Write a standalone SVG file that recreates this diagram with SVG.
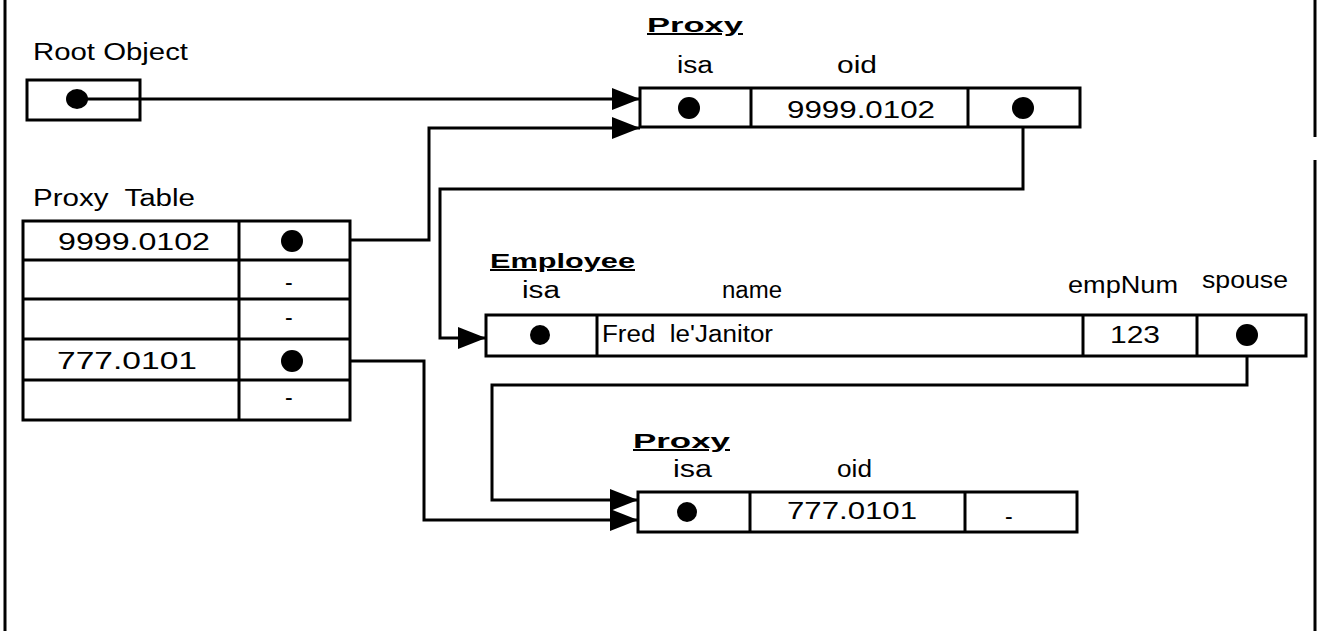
<svg xmlns="http://www.w3.org/2000/svg" width="1320" height="631" viewBox="0 0 1320 631">
<style>
.t{font-family:"Liberation Sans",Arial,sans-serif;font-size:23px;fill:#000;white-space:pre}
.h{font-family:"Liberation Sans",Arial,sans-serif;font-size:20px;font-weight:bold;fill:#000;text-decoration:underline}
.box{fill:#fff;stroke:#000;stroke-width:3}
.div{stroke:#000;stroke-width:3;fill:none}
.dot{fill:#000}
.conn{fill:none;stroke:#000;stroke-width:3;marker-end:url(#arr)}
.frame{stroke:#000;stroke-width:3;fill:none}
</style>
<defs>
<marker id="arr" viewBox="0 0 28 22" refX="28" refY="11" markerWidth="28" markerHeight="22" markerUnits="userSpaceOnUse" orient="auto">
<path d="M0,0 L28,11 L0,22 z" fill="#000"/>
</marker>
</defs>
<rect width="1320" height="631" fill="#fff"/>
<g id="frame">
<line class="frame" x1="5" y1="0" x2="5" y2="631"/>
<line class="frame" x1="1315" y1="0" x2="1315" y2="137"/>
<line class="frame" x1="1315" y1="160" x2="1315" y2="631"/>
</g>
<g id="connectors">
<path class="conn" d="M77,99 L640,99"/>
<path class="conn" d="M292,240 L429,240 L429,128 L640,128"/>
<path class="conn" d="M1023,108 L1023,189 L440,189 L440,338 L486,338"/>
<path class="conn" d="M1247,335 L1247,385 L492,385 L492,500 L638,500"/>
<path class="conn" d="M292,361 L424,361 L424,520 L638,520"/>
</g>
<g id="root-object">
<text class="t" x="33" y="60" textLength="155" lengthAdjust="spacingAndGlyphs">Root Object</text>
<rect class="box" x="27" y="80" width="113" height="40" fill-opacity="0"/>
<ellipse class="dot" cx="77" cy="99" rx="11" ry="10"/>
</g>
<g id="proxy-top">
<text class="h" x="647" y="32" textLength="96" lengthAdjust="spacingAndGlyphs">Proxy</text>
<text class="t" x="677" y="73" textLength="36" lengthAdjust="spacingAndGlyphs">isa</text>
<text class="t" x="837" y="73" textLength="40" lengthAdjust="spacingAndGlyphs">oid</text>
<rect class="box" x="640" y="88" width="440" height="39"/>
<line class="div" x1="751" y1="88" x2="751" y2="127"/>
<line class="div" x1="968" y1="88" x2="968" y2="127"/>
<circle class="dot" cx="689" cy="108" r="11"/>
<text class="t" x="787" y="118" textLength="148" lengthAdjust="spacingAndGlyphs">9999.0102</text>
<circle class="dot" cx="1023" cy="108" r="11"/>
</g>
<g id="proxy-table">
<text class="t" x="33" y="206" textLength="162" lengthAdjust="spacingAndGlyphs">Proxy  Table</text>
<rect class="box" x="23" y="221" width="327" height="199"/>
<line class="div" x1="23" y1="260" x2="350" y2="260"/>
<line class="div" x1="23" y1="299" x2="350" y2="299"/>
<line class="div" x1="23" y1="339" x2="350" y2="339"/>
<line class="div" x1="23" y1="380" x2="350" y2="380"/>
<line class="div" x1="239" y1="221" x2="239" y2="420"/>
<text class="t" x="58" y="250" textLength="152" lengthAdjust="spacingAndGlyphs">9999.0102</text>
<circle class="dot" cx="292" cy="241" r="11"/>
<text class="t" x="285" y="290">-</text>
<text class="t" x="285" y="325">-</text>
<text class="t" x="57" y="369" textLength="140" lengthAdjust="spacingAndGlyphs">777.0101</text>
<circle class="dot" cx="292" cy="361" r="11"/>
<text class="t" x="285" y="405">-</text>
</g>
<g id="employee">
<text class="h" x="490" y="268" textLength="145" lengthAdjust="spacingAndGlyphs">Employee</text>
<text class="t" x="522" y="298" textLength="38" lengthAdjust="spacingAndGlyphs">isa</text>
<text class="t" x="722" y="298" textLength="60" lengthAdjust="spacingAndGlyphs">name</text>
<text class="t" x="1068" y="293" textLength="110" lengthAdjust="spacingAndGlyphs">empNum</text>
<text class="t" x="1202" y="288" textLength="86" lengthAdjust="spacingAndGlyphs">spouse</text>
<rect class="box" x="486" y="315" width="820" height="41"/>
<line class="div" x1="597" y1="315" x2="597" y2="356"/>
<line class="div" x1="1083" y1="315" x2="1083" y2="356"/>
<line class="div" x1="1197" y1="315" x2="1197" y2="356"/>
<circle class="dot" cx="540" cy="335" r="10"/>
<text class="t" x="602" y="342" textLength="171" lengthAdjust="spacingAndGlyphs">Fred  le'Janitor</text>
<text class="t" x="1110" y="343" textLength="50" lengthAdjust="spacingAndGlyphs">123</text>
<circle class="dot" cx="1247" cy="335" r="11"/>
</g>
<g id="proxy-bottom">
<text class="h" x="633" y="448" textLength="97" lengthAdjust="spacingAndGlyphs">Proxy</text>
<text class="t" x="673" y="477" textLength="39" lengthAdjust="spacingAndGlyphs">isa</text>
<text class="t" x="837" y="477" textLength="35" lengthAdjust="spacingAndGlyphs">oid</text>
<rect class="box" x="638" y="492" width="439" height="40"/>
<line class="div" x1="750" y1="492" x2="750" y2="532"/>
<line class="div" x1="965" y1="492" x2="965" y2="532"/>
<circle class="dot" cx="687" cy="512" r="10"/>
<text class="t" x="787" y="519" textLength="130" lengthAdjust="spacingAndGlyphs">777.0101</text>
<text class="t" x="1005" y="524">-</text>
</g>
</svg>
